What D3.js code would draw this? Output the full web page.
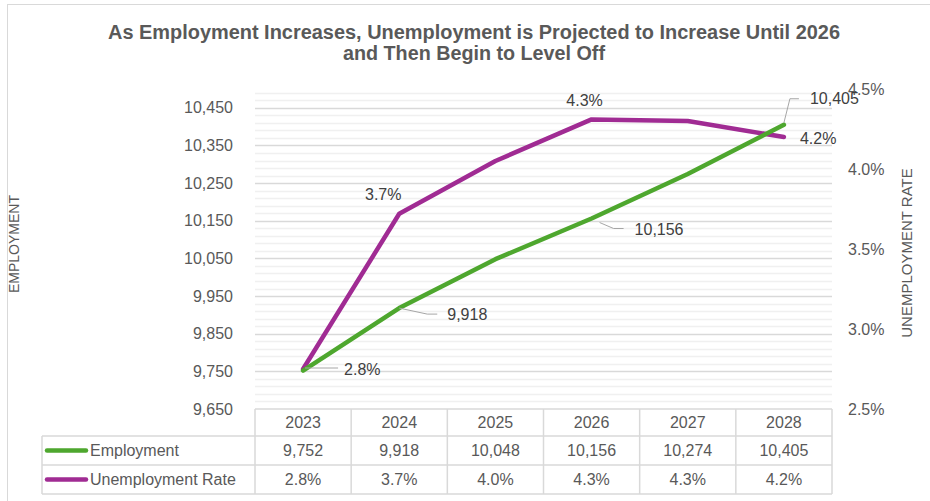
<!DOCTYPE html>
<html>
<head>
<meta charset="utf-8">
<script src="https://cdn.jsdelivr.net/npm/d3@7"></script>
<style>
  body { margin: 0; background: #fff; }
  svg text { font-family: "Liberation Sans", Arial, sans-serif; }
</style>
</head>
<body>
<div id="chart"></div>
<script>
const years = ["2023", "2024", "2025", "2026", "2027", "2028"];
const employment = [9752, 9918, 10048, 10156, 10274, 10405];
const unemploymentRate = [2.75, 3.72, 4.05, 4.31, 4.30, 4.20];
const leftTicks = [9650, 9750, 9850, 9950, 10050, 10150, 10250, 10350, 10450];
const rightTicks = [2.5, 3.0, 3.5, 4.0, 4.5];

const width = 930;
const height = 501;
const plot = { left: 255, right: 832, top: 89, bottom: 409 };

const svg = d3.select("#chart").append("svg")
  .attr("width", width)
  .attr("height", height);

// chart frame
svg.append("rect")
  .attr("x", 7.5).attr("y", 4.5)
  .attr("width", 950).attr("height", 520)
  .attr("fill", "none")
  .attr("stroke", "#d9d9d9");

// title
svg.append("text")
  .attr("x", 474).attr("y", 39)
  .attr("text-anchor", "middle")
  .attr("font-size", "20px")
  .attr("font-weight", "bold")
  .attr("fill", "#595959")
  .attr("textLength", 732)
  .attr("lengthAdjust", "spacingAndGlyphs")
  .text("As Employment Increases, Unemployment is Projected to Increase Until 2026");
svg.append("text")
  .attr("x", 474).attr("y", 60)
  .attr("text-anchor", "middle")
  .attr("font-size", "20px")
  .attr("font-weight", "bold")
  .attr("fill", "#595959")
  .attr("textLength", 262)
  .attr("lengthAdjust", "spacingAndGlyphs")
  .text("and Then Begin to Level Off");

const x = d3.scaleBand()
  .domain(years)
  .range([plot.left, plot.right]);

const yLeft = d3.scaleLinear()
  .domain([9650, 10500])
  .range([plot.bottom, plot.top]);

const yRight = d3.scaleLinear()
  .domain([2.5, 4.5])
  .range([plot.bottom, plot.top]);

// minor gridlines every 20
const minor = d3.range(9670, 10500, 20).filter(v => (v - 9650) % 100 !== 0);
svg.append("g").selectAll("line")
  .data(minor)
  .enter()
  .append("line")
  .attr("x1", plot.left).attr("x2", plot.right)
  .attr("y1", d => Math.round(yLeft(d)) + 0.5)
  .attr("y2", d => Math.round(yLeft(d)) + 0.5)
  .attr("stroke", "#f0f0f0")
  .attr("stroke-width", 1.5);

// major gridlines
svg.append("g").selectAll("line")
  .data(leftTicks.slice(1))
  .enter()
  .append("line")
  .attr("x1", plot.left).attr("x2", plot.right)
  .attr("y1", d => Math.round(yLeft(d)) + 0.5)
  .attr("y2", d => Math.round(yLeft(d)) + 0.5)
  .attr("stroke", "#d9d9d9")
  .attr("stroke-width", 1.5);

// left axis
const leftAxis = svg.append("g")
  .attr("transform", "translate(" + 233 + ",0)")
  .call(d3.axisLeft(yLeft).tickValues(leftTicks).tickSize(0).tickFormat(d3.format(",")));
leftAxis.select(".domain").remove();
leftAxis.selectAll("text")
  .attr("x", 0)
  .attr("font-size", "16px")
  .attr("fill", "#595959");

// right axis
const rightAxis = svg.append("g")
  .attr("transform", "translate(" + 848 + ",0)")
  .call(d3.axisRight(yRight).tickValues(rightTicks).tickSize(0).tickFormat(d => d.toFixed(1) + "%"));
rightAxis.select(".domain").remove();
rightAxis.selectAll("text")
  .attr("x", 0)
  .attr("font-size", "16px")
  .attr("fill", "#595959");

// axis titles
svg.append("text")
  .attr("transform", "translate(19,244) rotate(-90)")
  .attr("text-anchor", "middle")
  .attr("font-size", "14px")
  .attr("fill", "#595959")
  .text("EMPLOYMENT");
svg.append("text")
  .attr("transform", "translate(912,253) rotate(-90)")
  .attr("text-anchor", "middle")
  .attr("font-size", "15px")
  .attr("fill", "#595959")
  .text("UNEMPLOYMENT RATE");

const cx = d => x(d) + x.bandwidth() / 2;

const empLine = d3.line()
  .x((d, i) => cx(years[i]))
  .y(d => yLeft(d));
const rateLine = d3.line()
  .x((d, i) => cx(years[i]))
  .y(d => yRight(d));

const green = "#4ea72e";
const purple = "#a02b93";

svg.append("path")
  .datum(unemploymentRate)
  .attr("d", rateLine)
  .attr("fill", "none")
  .attr("stroke", purple)
  .attr("stroke-width", 4.5)
  .attr("stroke-linejoin", "round")
  .attr("stroke-linecap", "round");

svg.append("path")
  .datum(employment)
  .attr("d", empLine)
  .attr("fill", "none")
  .attr("stroke", green)
  .attr("stroke-width", 4.5)
  .attr("stroke-linejoin", "round")
  .attr("stroke-linecap", "round");

// data labels (offsets relative to points)
const labelColor = "#404040";
const leader = "#a6a6a6";

function label(px, py, dx, dy, txt, anchor) {
  svg.append("text")
    .attr("x", px + dx).attr("y", py + dy)
    .attr("dy", "0.35em")
    .attr("text-anchor", anchor || "start")
    .attr("font-size", "16px")
    .attr("fill", labelColor)
    .text(txt);
}
function leaderLine(pts) {
  svg.append("path")
    .attr("d", d3.line()(pts))
    .attr("fill", "none")
    .attr("stroke", leader)
    .attr("stroke-width", 1);
}

const fmtEmp = d3.format(",");
const fmtRate = d => d.toFixed(1) + "%";

// 2023 rate
{
  const px = cx(years[0]), py = yRight(unemploymentRate[0]);
  leaderLine([[px + 2, py - 1], [px + 35, py - 1]]);
  label(px, py, 41, 0, fmtRate(unemploymentRate[0]));
}
// 2024 rate
{
  const px = cx(years[1]), py = yRight(unemploymentRate[1]);
  label(px, py, -16, -19, fmtRate(unemploymentRate[1]), "middle");
}
// 2026 rate
{
  const px = cx(years[3]), py = yRight(unemploymentRate[3]);
  label(px, py, -7, -19, fmtRate(unemploymentRate[3]), "middle");
}
// 2028 rate
{
  const px = cx(years[5]), py = yRight(unemploymentRate[5]);
  label(px, py, 16, 1, fmtRate(unemploymentRate[5]));
}
// 2024 employment
{
  const px = cx(years[1]), py = yLeft(employment[1]);
  leaderLine([[px, py], [px + 28, py + 6], [px + 38, py + 6]]);
  label(px, py, 48, 6, fmtEmp(employment[1]));
}
// 2026 employment
{
  const px = cx(years[3]), py = yLeft(employment[3]);
  leaderLine([[px + 8, py + 4], [px + 22, py + 10], [px + 32, py + 10]]);
  label(px, py, 43, 11, fmtEmp(employment[3]));
}
// 2028 employment
{
  const px = cx(years[5]), py = yLeft(employment[5]);
  leaderLine([[px, py - 2], [px + 6, py - 26], [px + 15, py - 26]]);
  label(px, py, 26, -26, fmtEmp(employment[5]));
}

// data table
const tableLeft = 42;
const rows = [plot.bottom, 436, 465, 494];
const grid = "#d9d9d9";
const tbl = svg.append("g")
  .attr("stroke", grid)
  .attr("stroke-width", 1.5)
  .attr("fill", "none");

// horizontal lines
tbl.append("line").attr("x1", plot.left).attr("x2", plot.right).attr("y1", rows[0]).attr("y2", rows[0]);
[rows[1], rows[2], rows[3]].forEach(r => {
  tbl.append("line").attr("x1", tableLeft).attr("x2", plot.right).attr("y1", r).attr("y2", r);
});
// vertical lines
tbl.append("line").attr("x1", tableLeft).attr("x2", tableLeft).attr("y1", rows[1]).attr("y2", rows[3]);
years.forEach(yr => {
  tbl.append("line").attr("x1", x(yr)).attr("x2", x(yr)).attr("y1", rows[0]).attr("y2", rows[3]);
});
tbl.append("line").attr("x1", plot.right).attr("x2", plot.right).attr("y1", rows[0]).attr("y2", rows[3]);

const cellText = (xx, yy, txt, anchor) => svg.append("text")
  .attr("x", xx).attr("y", yy)
  .attr("dy", "0.35em")
  .attr("text-anchor", anchor)
  .attr("font-size", "16px")
  .attr("fill", "#595959")
  .text(txt);

years.forEach((yr, i) => {
  cellText(cx(yr), (rows[0] + rows[1]) / 2, yr, "middle");
  cellText(cx(yr), (rows[1] + rows[2]) / 2, fmtEmp(employment[i]), "middle");
  cellText(cx(yr), (rows[2] + rows[3]) / 2, fmtRate(unemploymentRate[i]), "middle");
});

// legend keys in table
[[employment, green, "Employment"], [unemploymentRate, purple, "Unemployment Rate"]].forEach((s, i) => {
  const my = (rows[i + 1] + rows[i + 2]) / 2;
  svg.append("line")
    .attr("x1", 47).attr("x2", 86)
    .attr("y1", my).attr("y2", my)
    .attr("stroke", s[1])
    .attr("stroke-width", 4.5)
    .attr("stroke-linecap", "round");
  cellText(90, my, s[2], "start");
});
</script>
</body>
</html>
